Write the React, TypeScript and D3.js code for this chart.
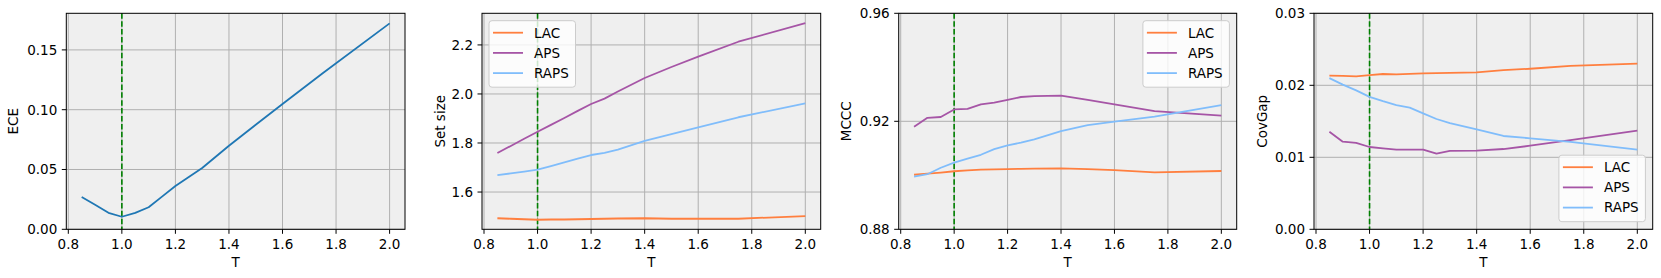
import * as d3 from 'd3';
import React from 'react';

// temperature values shared by every panel
const temps = [0.85, 0.9, 0.95, 1.0, 1.05, 1.1, 1.15, 1.2, 1.25, 1.3, 1.4, 1.5, 1.6, 1.75, 2.0];
const xTicks = [0.8, 1.0, 1.2, 1.4, 1.6, 1.8, 2.0];

const eceValues = [0.027, 0.0205, 0.0138, 0.0105, 0.0137, 0.0184, 0.0273, 0.0362, 0.0437, 0.0512, 0.0699, 0.0874, 0.1048, 0.1305, 0.1722];

const setLAC = [1.493, 1.491, 1.489, 1.487, 1.488, 1.488, 1.489, 1.490, 1.491, 1.492, 1.493, 1.491, 1.491, 1.491, 1.502];
const setAPS = [1.759, 1.788, 1.817, 1.846, 1.874, 1.902, 1.931, 1.959, 1.981, 2.010, 2.065, 2.110, 2.152, 2.213, 2.289];
const setRAPS = [1.669, 1.676, 1.683, 1.691, 1.706, 1.721, 1.736, 1.751, 1.760, 1.773, 1.809, 1.836, 1.864, 1.905, 1.962];

const mcccLAC = [0.9002, 0.9006, 0.9010, 0.9015, 0.9018, 0.9021, 0.9022, 0.9023, 0.9024, 0.9025, 0.9026, 0.9023, 0.9019, 0.9011, 0.9016];
const mcccAPS = [0.918, 0.9213, 0.9216, 0.9244, 0.9246, 0.9263, 0.9269, 0.9279, 0.929, 0.9293, 0.9295, 0.9279, 0.9263, 0.9238, 0.9221];
const mcccRAPS = [0.8995, 0.9004, 0.9028, 0.9047, 0.9062, 0.9076, 0.9097, 0.9111, 0.9121, 0.9133, 0.9164, 0.9186, 0.9199, 0.9217, 0.926];

const gapLAC = [0.02133, 0.0213, 0.02125, 0.0214, 0.02157, 0.02153, 0.0216, 0.02167, 0.0217, 0.02173, 0.0218, 0.0221, 0.0223, 0.0227, 0.023];
const gapAPS = [0.01356, 0.01217, 0.01199, 0.01143, 0.01125, 0.01106, 0.01106, 0.01106, 0.0105, 0.01088, 0.01092, 0.01115, 0.01161, 0.0124, 0.0137];
const gapRAPS = [0.021, 0.0201, 0.0193, 0.0184, 0.0178, 0.01726, 0.0169, 0.0161, 0.01532, 0.01476, 0.01389, 0.01296, 0.01264, 0.01213, 0.01106];

const methods = ['LAC', 'APS', 'RAPS'];
const methodColors = ['#ff7f3f', '#a655a6', '#80bdfb'];

interface Series {
  name: string;
  color: string;
  values: number[];
}

interface PanelProps {
  left: number;
  right: number;
  yDomain: [number, number];
  yTicks: number[];
  yFormat: string;
  yLabel: string;
  yLabelX: number;
  series: Series[];
  legend?: 'ul' | 'ur' | 'lr';
}

const top = 13.3;
const bottom = 229.3;
const font = 'DejaVu Sans, sans-serif';
const fs = 13.5;

function Panel({ left, right, yDomain, yTicks, yFormat, yLabel, yLabelX, series, legend }: PanelProps) {
  const x = d3.scaleLinear().domain([0.7925, 2.0575]).range([left, right]);
  const y = d3.scaleLinear().domain(yDomain).range([bottom, top]);
  const fmt = d3.format(yFormat);
  const line = d3
    .line<number>()
    .x((d, i) => x(temps[i]))
    .y(d => y(d));

  let legendBox = null;
  if (legend) {
    const lw = 86.5;
    const lh = 66.5;
    const lx = legend === 'ul' ? left + 7 : right - 7.3 - lw;
    const ly = legend === 'lr' ? bottom - 7.6 - lh : top + 7.4;
    legendBox = (
      <g>
        <rect x={lx} y={ly} width={lw} height={lh} rx={3} fill="#ffffff" fillOpacity={0.8} stroke="#cccccc" strokeWidth={1} />
        {series.map((s, i) => (
          <g key={s.name}>
            <line x1={lx + 4} x2={lx + 34} y1={ly + 12 + i * 20.2} y2={ly + 12 + i * 20.2} stroke={s.color} strokeWidth={1.8} />
            <text x={lx + 45} y={ly + 12 + i * 20.2} dy="0.36em" fontSize={fs} fontFamily={font} fill="#000">
              {s.name}
            </text>
          </g>
        ))}
      </g>
    );
  }

  return (
    <g>
      <rect x={left} y={top} width={right - left} height={bottom - top} fill="#efefef" />
      {xTicks.map(t => (
        <line key={'gx' + t} x1={x(t)} x2={x(t)} y1={top} y2={bottom} stroke="#b0b0b0" strokeWidth={1} />
      ))}
      {yTicks.map(t => (
        <line key={'gy' + t} x1={left} x2={right} y1={y(t)} y2={y(t)} stroke="#b0b0b0" strokeWidth={1} />
      ))}
      <line x1={x(1.0)} x2={x(1.0)} y1={top} y2={bottom} stroke="#008000" strokeWidth={1.6} strokeDasharray="5.5,2.4" />
      {series.map(s => (
        <path key={s.name} d={line(s.values) || ''} fill="none" stroke={s.color} strokeWidth={1.8} strokeLinejoin="round" />
      ))}
      <rect x={left} y={top} width={right - left} height={bottom - top} fill="none" stroke="#000" strokeWidth={1} />
      {xTicks.map(t => (
        <g key={'tx' + t}>
          <line x1={x(t)} x2={x(t)} y1={bottom} y2={bottom + 4.5} stroke="#000" strokeWidth={1} />
          <text x={x(t)} y={bottom + 20} textAnchor="middle" fontSize={fs} fontFamily={font} fill="#000">
            {t.toFixed(1)}
          </text>
        </g>
      ))}
      {yTicks.map(t => (
        <g key={'ty' + t}>
          <line x1={left} x2={left - 4.5} y1={y(t)} y2={y(t)} stroke="#000" strokeWidth={1} />
          <text x={left - 9} y={y(t)} dy="0.36em" textAnchor="end" fontSize={fs} fontFamily={font} fill="#000">
            {fmt(t)}
          </text>
        </g>
      ))}
      <text x={(left + right) / 2} y={266.7} textAnchor="middle" fontSize={fs} fontFamily={font} fill="#000">
        T
      </text>
      <text
        transform={`translate(${yLabelX},${(top + bottom) / 2}) rotate(-90)`}
        textAnchor="middle"
        dy="0.36em"
        fontSize={fs}
        fontFamily={font}
        fill="#000"
      >
        {yLabel}
      </text>
      {legendBox}
    </g>
  );
}

export default function App() {
  const mk = (vals: number[][]): Series[] =>
    methods.map((m, i) => ({ name: m, color: methodColors[i], values: vals[i] }));

  return (
    <svg width={1661} height={278} style={{ position: 'absolute', left: 0, top: 0, background: '#fff' }}>
      <Panel
        left={66.3}
        right={405}
        yDomain={[0, 0.1806]}
        yTicks={[0, 0.05, 0.1, 0.15]}
        yFormat=".2f"
        yLabel="ECE"
        yLabelX={13.3}
        series={[{ name: 'ECE', color: '#1f77b4', values: eceValues }]}
      />
      <Panel
        left={482}
        right={820.7}
        yDomain={[1.448, 2.329]}
        yTicks={[1.6, 1.8, 2.0, 2.2]}
        yFormat=".1f"
        yLabel="Set size"
        yLabelX={440}
        series={mk([setLAC, setAPS, setRAPS])}
        legend="ul"
      />
      <Panel
        left={898.7}
        right={1236.7}
        yDomain={[0.88, 0.96]}
        yTicks={[0.88, 0.92, 0.96]}
        yFormat=".2f"
        yLabel="MCCC"
        yLabelX={846}
        series={mk([mcccLAC, mcccAPS, mcccRAPS])}
        legend="ur"
      />
      <Panel
        left={1314}
        right={1652.7}
        yDomain={[0, 0.03]}
        yTicks={[0, 0.01, 0.02, 0.03]}
        yFormat=".2f"
        yLabel="CovGap"
        yLabelX={1261.7}
        series={mk([gapLAC, gapAPS, gapRAPS])}
        legend="lr"
      />
    </svg>
  );
}
